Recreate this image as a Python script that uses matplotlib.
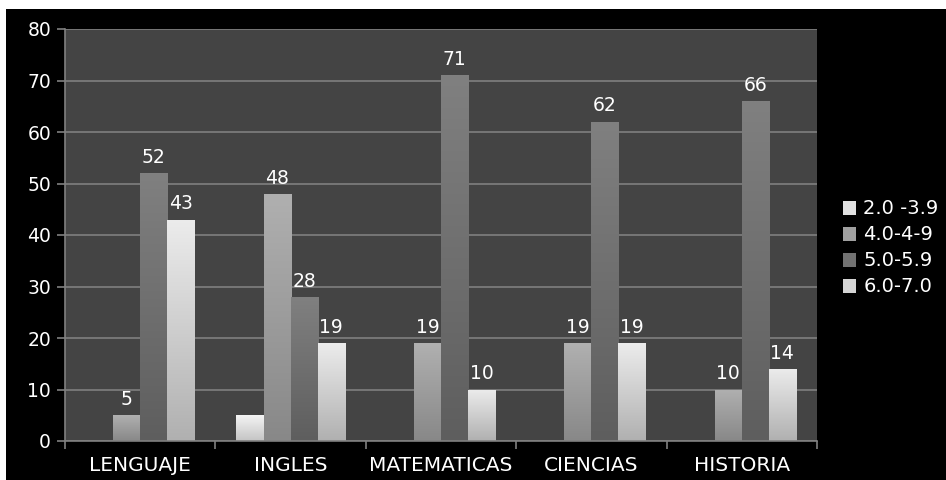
import numpy as np
import matplotlib
matplotlib.use('Agg')
import matplotlib.pyplot as plt
from matplotlib.colors import LinearSegmentedColormap
from matplotlib.patches import Rectangle

# data
categories = ['LENGUAJE', 'INGLES', 'MATEMATICAS', 'CIENCIAS', 'HISTORIA']
series_names = ['2.0 -3.9', '4.0-4-9', '5.0-5.9', '6.0-7.0']
s_2_39 = [0, 5, 0, 0, 0]
s_40_49 = [5, 48, 19, 19, 10]
s_50_59 = [52, 28, 71, 62, 66]
s_60_70 = [43, 19, 10, 19, 14]
series = [s_2_39, s_40_49, s_50_59, s_60_70]
show_labels = [False, True, True, True]

# (top colour, bottom colour) of each series gradient
grads = [('#f4f4f4', '#c4c4c4'),
         ('#b0b0b0', '#888888'),
         ('#808080', '#5e5e5e'),
         ('#ececec', '#b0b0b0')]

fig = plt.figure(figsize=(9.46, 4.80), dpi=100, facecolor='white')
# black chart area (white strip top/left like the source image)
fig.patches.append(Rectangle((6 / 946, 0), 1, 1 - 9 / 480, transform=fig.transFigure,
                             facecolor='black', edgecolor='none', zorder=-1))
ax = fig.add_axes([65 / 946, 1 - 441 / 480, (817 - 65) / 946, (441 - 29) / 480])
ax.set_zorder(2)
ax.set_facecolor('#444444')

x = np.arange(len(categories))
w = 0.18
grad = np.linspace(1, 0, 256).reshape(-1, 1)

for i, (vals, name) in enumerate(zip(series, series_names)):
    offs = (i - 1.5) * w
    top, bot = grads[i]
    cmap = LinearSegmentedColormap.from_list('g%d' % i, [bot, top])
    bars = ax.bar(x + offs, vals, w, color='none', edgecolor='none', zorder=2)
    for b, v in zip(bars, vals):
        if v <= 0:
            continue
        x0, y0 = b.get_x(), b.get_y()
        im = ax.imshow(grad, cmap=cmap, extent=[x0, x0 + b.get_width(), y0, y0 + b.get_height()],
                       aspect='auto', zorder=2, interpolation='bilinear')
        im.set_clip_path(b)
        if show_labels[i]:
            ax.annotate(str(v), (x0 + b.get_width() / 2, v), xytext=(0, 4.5),
                        textcoords='offset points', ha='center', va='bottom',
                        color='white', fontsize=13.5)
    # legend proxy
    ax.bar([0], [0], 0, color=LinearSegmentedColormap.from_list('l', [bot, top])(0.6), label=name)

ax.set_xlim(-0.5, len(categories) - 0.5)
ax.set_ylim(0, 80)
ax.set_yticks(range(0, 81, 10))
ax.grid(axis='y', color='#808080', linewidth=1.2, zorder=1)
ax.set_axisbelow(True)

# ticks at category boundaries, labels centred
ax.set_xticks(np.arange(-0.5, len(categories), 1))
ax.set_xticklabels([])
ax.set_xticks(x, minor=True)
ax.set_xticklabels(categories, minor=True)
ax.tick_params(axis='x', which='major', length=6, color='#808080', width=1.2)
ax.tick_params(axis='x', which='minor', length=0, pad=11, labelsize=14.5, labelcolor='white')
ax.tick_params(axis='y', length=6, color='#808080', width=1.2, labelsize=13.5,
               labelcolor='white', pad=4)

for s in ax.spines.values():
    s.set_visible(False)
ax.spines['left'].set_visible(True)
ax.spines['bottom'].set_visible(True)
ax.spines['left'].set_color('#808080')
ax.spines['bottom'].set_color('#808080')
ax.spines['left'].set_linewidth(1.2)
ax.spines['bottom'].set_linewidth(1.2)

leg = fig.legend(loc='center left', bbox_to_anchor=(835 / 946, 1 - 248 / 480),
                 frameon=False, fontsize=14, labelcolor='white',
                 handlelength=0.7, handleheight=0.7, handletextpad=0.35,
                 labelspacing=0.36, borderaxespad=0)

fig.savefig('out.png', dpi=100, facecolor='white')
